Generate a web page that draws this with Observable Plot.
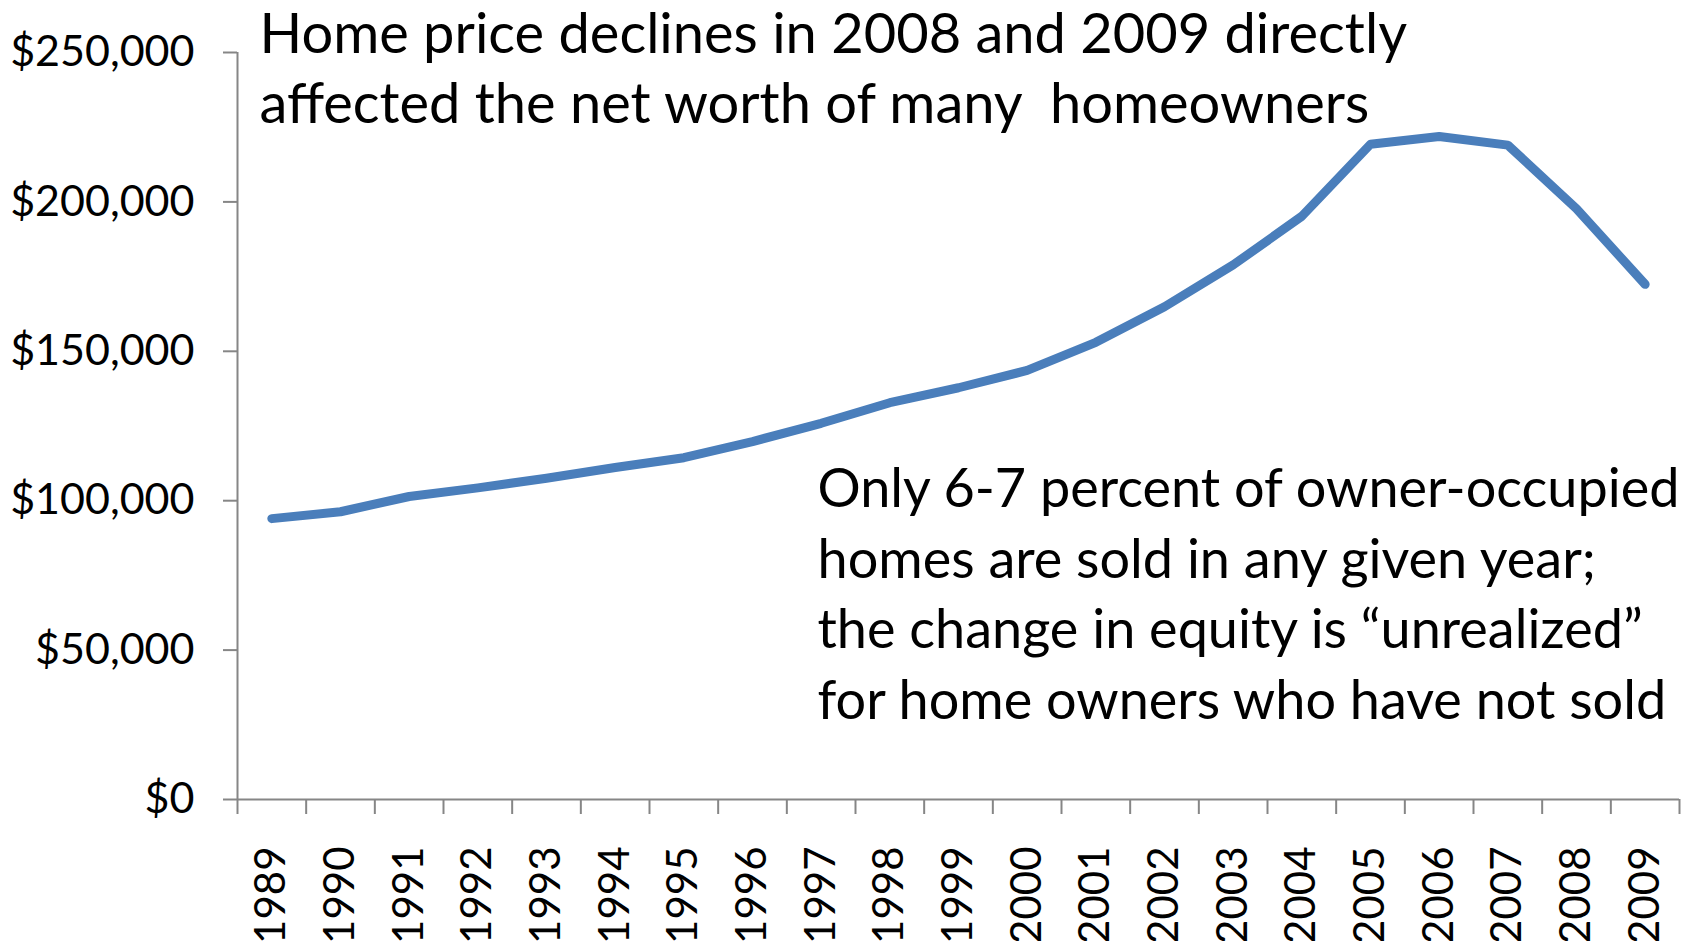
<!DOCTYPE html>
<html>
<head>
<meta charset="utf-8">
<script src="https://cdn.jsdelivr.net/npm/d3@7"></script>
<script src="https://cdn.jsdelivr.net/npm/@observablehq/plot@0.6"></script>
<style>
  html, body { margin: 0; padding: 0; background: #ffffff; }
  #chart { width: 1691px; height: 941px; }
</style>
</head>
<body>
<div id="chart"></div>
<script>
// ---- data ----
const years = [1989, 1990, 1991, 1992, 1993, 1994, 1995, 1996, 1997, 1998, 1999,
               2000, 2001, 2002, 2003, 2004, 2005, 2006, 2007, 2008, 2009];
const medianPrice = [94000, 96300, 101400, 104300, 107500, 111100, 114400, 119800, 125900, 132800, 137800,
                     143600, 153000, 164900, 178900, 195200, 219300, 221900, 219000, 197700, 172400];
const yTicks = [0, 50000, 100000, 150000, 200000, 250000];
const titleLines = ["Home price declines in 2008 and 2009 directly", "affected the net worth of many  homeowners"];
const noteLines = ["Only 6-7 percent of owner-occupied", "homes are sold in any given year;",
                   "the change in equity is \u201Cunrealized\u201D", "for home owners who have not sold"];

// ---- derived tables ----
const table = years.map((year, i) => ({year, value: medianPrice[i]}));
const boundaries = [...years.map(y => y - 0.5), years[years.length - 1] + 0.5];

const axisColor = "#868686";
const FONT = "Lato, 'Open Sans', sans-serif";

const chart = Plot.plot({
  width: 1691,
  height: 941,
  marginLeft: 237,
  marginRight: 12,
  marginTop: 52,
  marginBottom: 142,
  x: {type: "linear", domain: [boundaries[0], boundaries[boundaries.length - 1]], label: null},
  y: {domain: [0, 250000], label: null},
  style: {fontFamily: FONT, color: "#000", background: "#fff", overflow: "visible"},
  marks: [
    // y axis ticks + labels
    Plot.axisY({ticks: yTicks, tickSize: 14, tickPadding: 29, stroke: axisColor, strokeWidth: 2, label: null,
                tickFormat: d => "$" + d3.format(",")(d), fontSize: 43, fill: "#000"}),
    // x boundary tick marks
    Plot.axisX({ticks: boundaries, tickSize: 15, stroke: axisColor, strokeWidth: 2, label: null, tickFormat: () => ""}),
    // year labels
    Plot.axisX({ticks: years, tickSize: 0, tickPadding: 47, tickRotate: -90, label: null,
                tickFormat: d => String(d), fontSize: 42, fill: "#000"}),
    // axis lines
    Plot.ruleX([boundaries[0]], {y1: 0, y2: 250000, stroke: axisColor, strokeWidth: 2}),
    Plot.ruleY([0], {stroke: axisColor, strokeWidth: 2}),
    // the series
    Plot.line(table, {x: "year", y: "value", stroke: "#4A7EBB", strokeWidth: 9,
                      strokeLinecap: "round", strokeLinejoin: "round"}),
    // annotations
    Plot.text([titleLines.join("\n")], {frameAnchor: "top-left", dx: 22, dy: 13, textAnchor: "start",
                lineAnchor: "middle", fontSize: 56, lineHeight: 70 / 56, fill: "#000"}),
    Plot.text([noteLines.join("\n")], {frameAnchor: "top-left", dx: 580, dy: 538, textAnchor: "start",
                lineAnchor: "middle", fontSize: 54, lineHeight: 70.5 / 54, fill: "#000"})
  ]
});
document.getElementById("chart").appendChild(chart);
</script>
</body>
</html>
